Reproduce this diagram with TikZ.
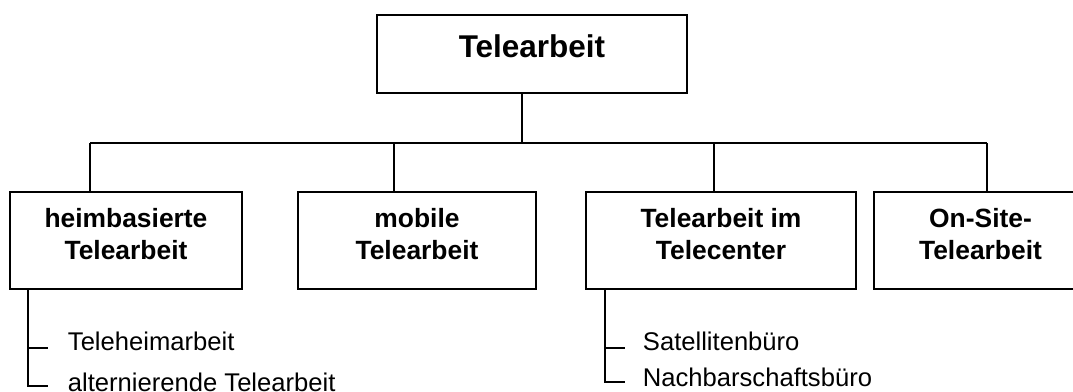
\documentclass[tikz,border=0pt]{standalone}
\usepackage{fontspec}
\setmainfont{Liberation Sans}
\begin{document}
\begin{tikzpicture}[x=0.75pt,y=-0.75pt,
  every path/.style={line width=1.4pt},
  box/.style={draw,line width=1.4pt,rectangle,inner sep=0pt,align=center,
    minimum height=72.75pt,font=\fontsize{19.8pt}{24pt}\selectfont\bfseries},
  topbox/.style={draw,line width=1.4pt,rectangle,inner sep=0pt,align=center,
    minimum width=232.5pt,minimum height=58.5pt,font=\fontsize{23.6pt}{28pt}\selectfont\bfseries},
  item/.style={inner sep=0pt,anchor=base west,font=\fontsize{19.2pt}{23pt}\selectfont}]
\useasboundingbox (0,0) rectangle (1073,392);

\node[topbox] (top) at (532,54) {Telearbeit\rule[-11.25pt]{0pt}{0pt}};

\node[box,minimum width=174pt]   (b1) at (126,240.5) {heimbasierte\\Telearbeit\rule[-10.5pt]{0pt}{0pt}};
\node[box,minimum width=178.5pt] (b2) at (417,240.5) {mobile\\Telearbeit\rule[-10.5pt]{0pt}{0pt}};
\node[box,minimum width=202.5pt] (b3) at (721,240.5) {Telearbeit im\\Telecenter\rule[-10.5pt]{0pt}{0pt}};
\node[box,minimum width=159.75pt] (b4) at (980.5,240.5) {On-Site-\\Telearbeit\rule[-10.5pt]{0pt}{0pt}};

% bus
\coordinate (j0) at (522,143);
\coordinate (j1) at (90,143);
\coordinate (j2) at (394,143);
\coordinate (j3) at (714,143);
\coordinate (j4) at (987,143);
\draw (top.south -| j0) -- (j0);
\draw (j1) -- (j4);
\draw (j1) -- (j1 |- b1.north);
\draw (j2) -- (j2 |- b2.north);
\draw (j3) -- (j3 |- b3.north);
\draw (j4) -- (j4 |- b4.north);

% sub items
\node[item] (s1) at (67,350) {Teleheimarbeit};
\node[item] (s2) at (67,391) {alternierende Telearbeit};
\node[item] (s3) at (642,350) {Satellitenbüro};
\node[item] (s4) at (642,386) {Nachbarschaftsbüro};

\coordinate (v1) at (28,289);
\coordinate (v2) at (605,289);
\coordinate (t1) at ([shift={(-14.25pt,1.5pt)}]s1.base west);
\coordinate (t2) at ([shift={(-14.25pt,3.5pt)}]s2.base west);
\coordinate (t3) at ([shift={(-12.75pt,1.5pt)}]s3.base west);
\coordinate (t4) at ([shift={(-12.75pt,3pt)}]s4.base west);
\draw (v1) |- (t2);
\draw (t1 -| v1) -- (t1);
\draw (v2) |- (t4);
\draw (t3 -| v2) -- (t3);
\end{tikzpicture}
\end{document}
